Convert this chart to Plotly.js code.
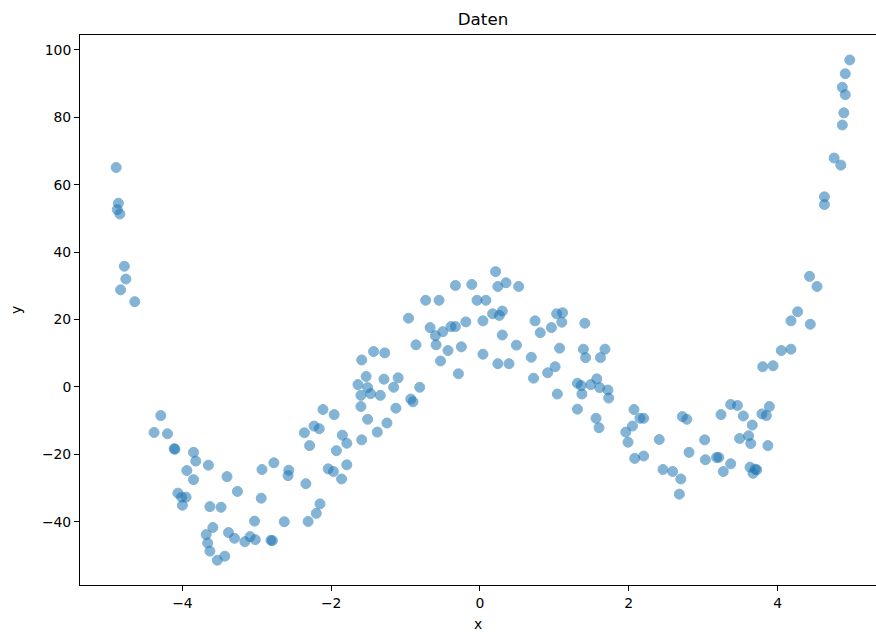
<!DOCTYPE html>
<html>
<head>
<meta charset="utf-8">
<script src="https://cdn.plot.ly/plotly-3.0.1.min.js"></script>
<style>html,body{margin:0;padding:0;background:#fff;}#chart{width:876px;height:632px;}</style>
</head>
<body>
<div id="chart"></div>
<script>
const xValues = [
-4.89,-4.86,-4.875,-4.84,-4.78,-4.76,-4.83,-4.64,-4.29,-4.38,-4.20,-4.10,-4.11,-3.85,-3.82,-3.65,-3.94,-3.85,-3.40,-2.93,
-2.77,-3.26,-2.94,-4.06,-4.01,-3.95,-4.00,-3.63,-3.48,-3.03,-3.59,-3.68,-3.66,-3.63,-3.53,-3.43,-3.38,-3.30,-3.16,-3.09,
-3.02,-2.81,-2.79,-2.63,-2.57,-2.58,-2.15,-2.20,-2.31,-2.34,-2.04,-1.97,-1.86,-1.79,-1.93,-1.85,-1.79,-2.29,-2.36,-2.23,
-2.16,-2.11,-1.96,-1.60,-1.13,-0.93,-0.90,-1.51,-1.25,-1.38,-1.59,-1.43,-1.28,-1.59,-1.53,-1.64,-1.51,-1.29,-1.10,-1.16,
-0.81,-1.60,-1.47,-1.34,-0.96,-0.86,-0.73,-0.55,-0.67,-0.60,-0.50,-0.39,-0.33,-0.19,-0.59,-0.43,-0.25,-0.53,-0.29,-0.33,
-0.11,0.21,0.24,0.35,0.52,-0.04,0.08,0.04,0.17,0.30,0.26,0.30,0.49,0.04,0.24,0.39,0.74,0.81,0.96,1.03,
1.11,1.10,1.41,0.69,0.72,1.07,1.01,0.91,1.04,1.39,1.42,1.68,1.62,1.31,1.36,1.49,1.57,1.61,1.72,1.73,
1.37,1.31,1.56,1.60,2.07,2.15,2.20,2.05,1.96,1.99,2.41,2.08,2.20,2.46,2.59,2.70,2.68,2.72,2.78,2.81,
3.02,3.03,3.18,3.21,3.37,3.27,3.24,3.37,3.46,3.54,3.66,3.49,3.61,3.64,3.87,3.79,3.85,3.89,3.63,3.70,
3.67,3.72,3.80,3.94,4.05,4.18,4.18,4.27,4.44,4.43,4.53,4.63,4.63,4.76,4.85,4.87,4.89,4.91,4.87,4.91,
4.97
];
const yValues = [
65.1,54.5,52.6,51.3,35.8,32.0,28.8,25.3,-8.5,-13.5,-13.9,-18.5,-18.3,-19.4,-22.0,-23.2,-24.8,-27.5,-26.6,-24.5,
-22.5,-31.0,-33.0,-31.5,-32.7,-32.7,-35.1,-35.5,-35.7,-39.8,-41.7,-43.8,-46.3,-48.7,-51.4,-50.2,-43.2,-44.9,-45.9,-44.4,
-45.3,-45.5,-45.6,-40.0,-24.7,-26.3,-34.7,-37.5,-39.9,-28.7,-24.3,-25.1,-27.3,-23.1,-18.9,-14.3,-16.7,-17.4,-13.6,-11.6,
-12.4,-6.7,-8.2,-5.8,-6.3,-3.6,-4.4,-9.6,-10.7,-13.4,-15.7,10.5,10.1,8.0,3.1,0.7,-0.2,2.3,2.7,-0.1,
-0.1,-2.5,-2.0,-2.5,20.4,12.5,25.7,25.7,17.6,15.2,16.4,17.9,17.9,19.3,12.5,10.8,11.9,7.7,3.9,30.1,
30.4,34.2,29.8,30.9,29.8,25.7,25.7,19.6,21.7,22.5,21.2,15.4,12.4,9.7,6.9,6.9,19.6,16.1,17.6,21.7,
22.0,19.2,18.9,8.8,2.6,11.5,6.0,4.2,-2.1,11.2,8.7,11.2,8.7,1.1,0.4,0.7,2.4,-0.2,-0.9,-3.3,
-2.1,-6.6,-9.3,-12.1,-6.7,-9.3,-9.3,-11.6,-13.4,-16.4,-15.6,-21.2,-20.5,-24.5,-25.1,-27.3,-31.8,-8.8,-9.6,-19.4,
-15.7,-21.6,-20.9,-20.9,-22.8,-25.1,-8.2,-5.2,-5.5,-8.6,-11.3,-15.3,-14.5,-16.8,-17.4,-8.0,-8.5,-5.8,-23.8,-24.4,
-25.6,-24.6,6.0,6.3,10.8,11.2,19.6,22.3,18.6,32.8,29.8,56.4,54.1,67.9,65.8,77.7,81.3,86.7,88.9,92.9,
97.0
];
const xTicks = [-4, -2, 0, 2, 4];
const yTicks = [-40, -20, 0, 20, 40, 60, 80, 100];
const chartTitle = "Daten";
const xLabel = "x";
const yLabel = "y";

const font = {family: "DejaVu Sans, sans-serif", size: 13.9, color: "#000"};

const trace = {
  type: "scatter",
  mode: "markers",
  x: xValues,
  y: yValues,
  marker: {
    color: "#1f77b4",
    size: 10,
    opacity: 0.55,
    line: {color: "#1f77b4", width: 1}
  },
  hoverinfo: "skip"
};

const layout = {
  width: 876,
  height: 632,
  margin: {l: 80, r: 0, t: 35, b: 47, pad: 0},
  paper_bgcolor: "#fff",
  plot_bgcolor: "#fff",
  showlegend: false,
  font: font,
  title: {
    text: chartTitle,
    font: {family: "DejaVu Sans, sans-serif", size: 16.7, color: "#000"},
    xref: "container", yref: "container",
    x: 483 / 876, xanchor: "center",
    y: 1 - 19 / 632, yanchor: "middle"
  },
  xaxis: {
    range: [-5.376, 5.323],
    tickvals: xTicks,
    ticktext: xTicks.map(v => v < 0 ? "\u2212" + Math.abs(v) : String(v)),
    ticks: "outside", ticklen: 5, tickwidth: 1, tickcolor: "#000",
    showgrid: false, zeroline: false,
    showline: true, linecolor: "#000", linewidth: 1, mirror: true,
    tickfont: font,
    title: {text: xLabel, font: font, standoff: 11}
  },
  yaxis: {
    range: [-58.75, 104.4],
    tickvals: yTicks,
    ticktext: yTicks.map(v => v < 0 ? "\u2212" + Math.abs(v) : String(v)),
    ticks: "outside", ticklen: 5, tickwidth: 1, tickcolor: "#000",
    showgrid: false, zeroline: false,
    showline: true, linecolor: "#000", linewidth: 1, mirror: false,
    tickfont: font,
    title: {text: yLabel, font: font, standoff: 17}
  }
};

Plotly.newPlot("chart", [trace], layout, {displayModeBar: false, staticPlot: true});
</script>
</body>
</html>
